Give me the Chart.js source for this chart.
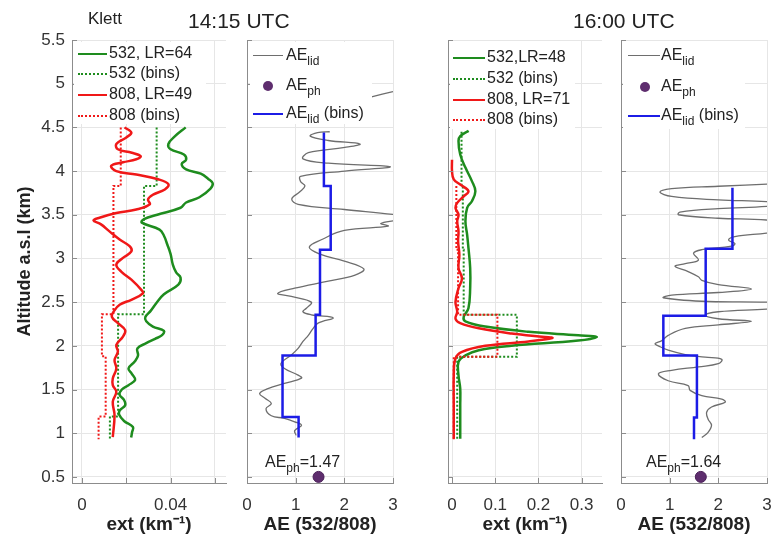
<!DOCTYPE html>
<html>
<head>
<meta charset="utf-8">
<script src="https://cdn.jsdelivr.net/npm/chart.js@4.4.1/dist/chart.umd.min.js"></script>
<style>
  body { margin: 0; background: #fff; font-family: 'Liberation Sans', Arial, sans-serif; color: #222; }
  #wrap { position: relative; width: 776px; height: 540px; overflow: hidden; }
  canvas { position: absolute; left: 0; top: 0; }
  .t { position: absolute; white-space: nowrap; }
  .box { position: absolute; background: #fff; }
  .row { position: absolute; height: 20px; line-height: 20px; font-size: 16px; white-space: nowrap; color: #222; }
  .ln { display: inline-block; vertical-align: middle; height: 0; margin-right: 2px; }
  .dot { display: inline-block; vertical-align: middle; width: 10px; height: 10px; border-radius: 50%; background: #5e2d6e; }
  .sb { font-size: 12px; position: relative; top: 5px; }
</style>
</head>
<body>
<div id="wrap">
  <canvas id="c1" width="776" height="540"></canvas>
  <canvas id="c2" width="776" height="540"></canvas>
  <canvas id="c3" width="776" height="540"></canvas>
  <canvas id="c4" width="776" height="540"></canvas>

  <div class="t" style="left:88px;top:9px;font-size:17px;">Klett</div>
  <div class="t" style="left:188px;top:9px;font-size:21px;">14:15 UTC</div>
  <div class="t" style="left:573px;top:9px;font-size:21px;">16:00 UTC</div>

  <!-- legend 14:15 ext -->
  <div class="box" style="left:74px;top:42px;width:132px;height:82px;"></div>
  <div class="row" style="left:78px;top:43px;"><span class="ln" style="width:29px;border-top:2.5px solid #1e8c1e"></span>532, LR=64</div>
  <div class="row" style="left:78px;top:63px;"><span class="ln" style="width:29px;border-top:2px dotted #1e8c1e"></span>532 (bins)</div>
  <div class="row" style="left:78px;top:84px;"><span class="ln" style="width:29px;border-top:2.5px solid #f01818"></span>808, LR=49</div>
  <div class="row" style="left:78px;top:105px;"><span class="ln" style="width:29px;border-top:2px dotted #f01818"></span>808 (bins)</div>

  <!-- legend 14:15 AE -->
  <div class="box" style="left:250px;top:42px;width:122px;height:82px;"></div>
  <div class="row" style="left:253px;top:45px;"><span class="ln" style="width:30px;border-top:1.3px solid #6e6e6e;margin-right:3px"></span>AE<span class="sb">lid</span></div>
  <div class="row" style="left:253px;top:75px;"><span class="dot" style="margin-left:10px;margin-right:13px"></span>AE<span class="sb">ph</span></div>
  <div class="row" style="left:253px;top:103px;"><span class="ln" style="width:30px;border-top:2.5px solid #1c1ce6;margin-right:3px"></span>AE<span class="sb">lid</span> (bins)</div>

  <!-- legend 16:00 ext -->
  <div class="box" style="left:450px;top:41px;width:125px;height:88px;"></div>
  <div class="row" style="left:453px;top:47px;"><span class="ln" style="width:32px;border-top:2.5px solid #1e8c1e"></span>532,LR=48</div>
  <div class="row" style="left:453px;top:68px;"><span class="ln" style="width:32px;border-top:2px dotted #1e8c1e"></span>532 (bins)</div>
  <div class="row" style="left:453px;top:89px;"><span class="ln" style="width:32px;border-top:2.5px solid #f01818"></span>808, LR=71</div>
  <div class="row" style="left:453px;top:109px;"><span class="ln" style="width:32px;border-top:2px dotted #f01818"></span>808 (bins)</div>

  <!-- legend 16:00 AE -->
  <div class="box" style="left:623px;top:41px;width:122px;height:88px;"></div>
  <div class="row" style="left:628px;top:45px;"><span class="ln" style="width:32px;border-top:1.3px solid #6e6e6e;margin-right:1px"></span>AE<span class="sb">lid</span></div>
  <div class="row" style="left:628px;top:76px;"><span class="dot" style="margin-left:12px;margin-right:11px"></span>AE<span class="sb">ph</span></div>
  <div class="row" style="left:628px;top:105px;"><span class="ln" style="width:32px;border-top:2.5px solid #1c1ce6;margin-right:1px"></span>AE<span class="sb">lid</span> (bins)</div>

  <div class="row" style="left:265px;top:452px;">AE<span class="sb">ph</span>=1.47</div>
  <div class="row" style="left:646px;top:452px;">AE<span class="sb">ph</span>=1.64</div>
</div>

<script>
// ---- 14:15 UTC ----
const alt1415G = [4.50, 4.40, 4.31, 4.25, 4.19, 4.13, 4.08, 4.02, 3.97, 3.91, 3.86, 3.80, 3.70, 3.64, 3.58, 3.50, 3.45, 3.41, 3.33, 3.26, 3.16, 3.05, 2.93, 2.84, 2.78, 2.70, 2.59, 2.49, 2.40, 2.33, 2.28, 2.22, 2.17, 2.12, 2.08, 2.03, 1.97, 1.89, 1.82, 1.74, 1.68, 1.61, 1.55, 1.50, 1.44, 1.38, 1.32, 1.26, 1.21, 1.14, 1.07, 1.01, 0.95];
const ext1415G = [0.0468, 0.042, 0.039, 0.040, 0.046, 0.047, 0.045, 0.047, 0.0536, 0.057, 0.059, 0.058, 0.053, 0.047, 0.0445, 0.034, 0.028, 0.027, 0.035, 0.037, 0.0385, 0.040, 0.041, 0.0425, 0.0445, 0.0435, 0.037, 0.0336, 0.031, 0.0286, 0.029, 0.032, 0.037, 0.036, 0.033, 0.029, 0.025, 0.0253, 0.0238, 0.021, 0.0225, 0.024, 0.021, 0.018, 0.017, 0.019, 0.0195, 0.017, 0.0168, 0.019, 0.023, 0.0226, 0.0222];

const alt1415R = [4.50, 4.44, 4.385, 4.31, 4.25, 4.21, 4.17, 4.135, 4.10, 4.06, 4.00, 3.96, 3.906, 3.85, 3.79, 3.73, 3.676, 3.62, 3.56, 3.52, 3.466, 3.435, 3.39, 3.31, 3.216, 3.14, 3.08, 3.006, 2.93, 2.85, 2.757, 2.64, 2.60, 2.527, 2.47, 2.40, 2.33, 2.26, 2.18, 2.106, 2.01, 1.933, 1.837, 1.74, 1.626, 1.55, 1.473, 1.36, 1.205, 0.956];
const ext1415R = [0.0192, 0.0223, 0.020, 0.0155, 0.0162, 0.0225, 0.0265, 0.0245, 0.0185, 0.0132, 0.0155, 0.0245, 0.0344, 0.039, 0.0374, 0.0321, 0.0298, 0.0306, 0.0245, 0.0155, 0.0079, 0.0052, 0.0086, 0.0124, 0.017, 0.0215, 0.0223, 0.0185, 0.0155, 0.0177, 0.0223, 0.0268, 0.0275, 0.0223, 0.017, 0.0145, 0.0135, 0.0162, 0.0195, 0.0185, 0.0155, 0.0162, 0.0147, 0.0155, 0.0139, 0.0139, 0.0155, 0.0139, 0.0147, 0.0139];

const edges1415G = [4.50, 3.83, 2.36, 1.19, 0.93];
const bins1415G = [0.0337, 0.028, 0.0163, 0.0126];
const edges1415R = [4.50, 3.83, 2.36, 1.88, 1.19, 0.93];
const bins1415R = [0.0175, 0.0142, 0.009, 0.0107, 0.0075];

const alt1415AE = [4.45, 4.44, 4.40, 4.35, 4.31, 4.27, 4.21, 4.14, 4.09, 4.05, 4.00, 3.94, 3.88, 3.83, 3.76, 3.68, 3.62, 3.56, 3.50, 3.47, 3.44, 3.40, 3.37, 3.32, 3.22, 3.13, 3.05, 2.97, 2.88, 2.81, 2.74, 2.66, 2.60, 2.565, 2.50, 2.43, 2.39, 2.355, 2.32, 2.26, 2.20, 2.12, 2.05, 1.97, 1.895, 1.80, 1.74, 1.665, 1.63, 1.57, 1.51, 1.455, 1.40, 1.34, 1.28, 1.20, 1.17, 1.13, 1.09, 1.03, 0.975];
const ae1415 = [1.70, 1.45, 1.30, 1.67, 2.32, 2.01, 1.26, 1.15, 1.67, 2.94, 2.01, 1.10, 1.10, 1.19, 1.08, 0.92, 1.05, 2.00, 3.05, 3.3, 3.1, 2.75, 2.9, 2.0, 1.55, 1.28, 1.5, 2.0, 2.4, 2.22, 1.67, 0.98, 0.63, 0.91, 1.32, 1.22, 1.15, 1.32, 1.77, 1.46, 1.36, 1.26, 1.15, 1.05, 0.91, 0.70, 0.77, 1.05, 1.12, 0.77, 0.43, 0.26, 0.37, 0.5, 0.39, 0.5, 0.77, 0.98, 1.12, 0.98, 1.01];
const alt1415AEtop = [4.85, 4.91, 4.95];
const ae1415top = [2.56, 3.0, 3.3];
const edges1415AE = [4.44, 3.83, 3.10, 2.355, 1.89, 1.186, 0.95];
const bins1415AE = [1.58, 1.72, 1.50, 1.41, 0.73, 1.06];
const aePh1415 = 1.47;

// ---- 16:00 UTC ----
const alt1600G = [4.46, 4.40, 4.345, 4.19, 4.04, 3.885, 3.77, 3.655, 3.58, 3.425, 3.27, 3.12, 2.89, 2.66, 2.43, 2.33, 2.28, 2.22, 2.16, 2.12, 2.10, 2.06, 2.00, 1.95, 1.89, 1.816, 1.66, 1.51, 1.32, 1.13, 0.935];
const ext1600G = [0.0385, 0.019, 0.015, 0.019, 0.031, 0.046, 0.054, 0.046, 0.035, 0.031, 0.035, 0.038, 0.042, 0.042, 0.038, 0.027, 0.031, 0.077, 0.177, 0.292, 0.335, 0.292, 0.138, 0.062, 0.031, 0.015, 0.015, 0.019, 0.019, 0.019, 0.019];

const alt1600R = [4.13, 4.00, 3.904, 3.846, 3.77, 3.71, 3.636, 3.58, 3.50, 3.425, 3.31, 3.195, 3.04, 2.89, 2.77, 2.66, 2.50, 2.39, 2.31, 2.26, 2.20, 2.14, 2.10, 2.09, 2.05, 2.00, 1.93, 1.855, 1.66, 1.32, 0.935];
const ext1600R = [0.0, 0.0, 0.004, 0.019, 0.038, 0.027, 0.012, 0.008, 0.015, 0.012, 0.015, 0.014, 0.017, 0.015, 0.023, 0.015, 0.008, 0.012, 0.008, 0.019, 0.062, 0.138, 0.215, 0.232, 0.177, 0.077, 0.023, 0.008, 0.004, 0.004, 0.004];

const edges1600G = [4.45, 3.83, 3.10, 2.355, 1.875, 0.93];
const bins1600G = [0.022, 0.025, 0.027, 0.15, 0.012];
const edges1600R = [3.83, 3.10, 2.355, 1.875, 0.93];
const bins1600R = [0.010, 0.014, 0.105, 0.004];

const alt1600AE = [3.852, 3.826, 3.80, 3.76, 3.71, 3.67, 3.65, 3.63, 3.60, 3.57, 3.53, 3.50, 3.46, 3.44, 3.40, 3.32, 3.29, 3.25, 3.21, 3.17, 3.14, 3.10, 3.06, 2.98, 2.94, 2.91, 2.85, 2.79, 2.75, 2.70, 2.65, 2.61, 2.58, 2.55, 2.51, 2.50, 2.48, 2.44, 2.42, 2.39, 2.35, 2.31, 2.28, 2.24, 2.20, 2.12, 2.06, 2.025, 1.99, 1.95, 1.90, 1.87, 1.845, 1.795, 1.76, 1.72, 1.68, 1.60, 1.545, 1.49, 1.43, 1.39, 1.355, 1.30, 1.24, 1.16, 1.09, 1.01, 0.95];
const ae1600 = [3.1, 2.0, 1.04, 0.80, 1.04, 2.0, 2.99, 3.2, 3.1, 2.0, 1.21, 1.18, 2.0, 2.99, 3.3, 3.3, 2.99, 2.34, 2.21, 2.34, 2.27, 1.66, 1.49, 1.59, 1.32, 1.11, 1.38, 1.59, 1.66, 2.0, 2.68, 2.0, 1.04, 0.87, 1.66, 2.99, 3.3, 3.3, 2.99, 2.0, 1.73, 2.0, 2.68, 2.0, 1.32, 0.97, 0.84, 0.70, 0.80, 0.97, 1.32, 1.73, 2.07, 2.0, 1.59, 1.04, 0.77, 0.97, 1.38, 1.42, 1.66, 2.07, 2.14, 1.86, 1.76, 1.79, 1.86, 1.79, 1.66];
const edges1600AE = [3.81, 3.11, 2.343, 1.89, 1.18, 0.93];
const bins1600AE = [2.29, 1.74, 0.87, 1.56, 1.50];
const aePh1600 = 1.64;

const altPh = 0.5;
const yTicks = { min: 0.43, max: 5.5, step: 0.5 };

const GREEN = '#1e8c1e', RED = '#f01818', BLUE = '#1c1ce6', GREY = '#6e6e6e', PURPLE = '#5e2d6e';

Chart.defaults.font.family = "'Liberation Sans', Arial, sans-serif";

function pts(xs, ys) {
  return xs.map((x, i) => ({ x: x, y: ys[i] }));
}

// step profile from bin edges and bin values
function steps(edges, vals) {
  const out = [];
  vals.forEach((v, i) => {
    out.push({ x: v, y: edges[i] });
    out.push({ x: v, y: edges[i + 1] });
  });
  return out;
}

function curve(data, color, width, order) {
  return { data, showLine: true, borderColor: color, borderWidth: width, pointRadius: 0, tension: 0.4, order };
}
function binLine(data, color, width, dash, order) {
  return { data, showLine: true, borderColor: color, borderWidth: width, borderDash: dash, pointRadius: 0, tension: 0, order };
}
function dot(x, order) {
  return { data: [{ x: x, y: altPh }], showLine: false, pointRadius: 5.5, backgroundColor: PURPLE, borderColor: '#4a2058', borderWidth: 1, order };
}

// inward tick marks, like the original figure
const inTicks = {
  id: 'inTicks',
  afterDraw(chart) {
    const { ctx, chartArea: a, scales: { x, y } } = chart;
    ctx.save();
    ctx.strokeStyle = '#8c8c8c';
    ctx.lineWidth = 1;
    ctx.beginPath();
    y.ticks.forEach(t => {
      const p = Math.round(y.getPixelForValue(t.value)) + 0.5;
      ctx.moveTo(a.left, p); ctx.lineTo(a.left + 5, p);
    });
    x.ticks.forEach(t => {
      const p = Math.round(x.getPixelForValue(t.value)) + 0.5;
      ctx.moveTo(p, a.bottom); ctx.lineTo(p, a.bottom - 5);
    });
    ctx.stroke();
    ctx.restore();
  }
};

function panel(id, p) {
  const first = p.first;
  new Chart(document.getElementById(id), {
    type: 'scatter',
    data: { datasets: p.datasets },
    options: {
      responsive: false,
      animation: false,
      events: [],
      layout: { padding: { left: p.left - p.yw, right: 776 - p.right, top: 40, bottom: 0 } },
      plugins: { legend: { display: false }, tooltip: { enabled: false } },
      scales: {
        x: {
          type: 'linear', min: p.xmin, max: p.xmax,
          grid: { color: '#e6e6e6', drawTicks: false },
          border: { color: '#8c8c8c' },
          ticks: { stepSize: p.xstep, includeBounds: false, autoSkip: false, maxRotation: 0, padding: 12,
                   color: '#333', font: { size: 17 }, callback: p.fmt },
          title: { display: true, text: p.xtitle, color: '#222', font: { size: 19, weight: 'bold' }, padding: { top: 0, bottom: 4 } },
          afterFit: s => { s.height = 57; s.paddingLeft = 0; s.paddingRight = 0; }
        },
        y: {
          type: 'linear', min: yTicks.min, max: yTicks.max,
          grid: { color: '#e6e6e6', drawTicks: false },
          border: { color: '#8c8c8c' },
          ticks: { display: first, stepSize: yTicks.step, includeBounds: false, autoSkip: false, padding: 7,
                   color: '#333', font: { size: 17 }, callback: v => String(+v.toFixed(1)) },
          title: { display: first, text: 'Altitude a.s.l (km)', color: '#222', font: { size: 18, weight: 'bold' }, padding: { top: 14, bottom: 0 } },
          afterFit: s => { s.width = p.yw; s.paddingTop = 0; s.paddingBottom = 0; }
        }
      }
    },
    plugins: [inTicks]
  });
}

panel('c1', {
  first: true, left: 72, right: 226, yw: 72,
  xmin: -0.0045, xmax: 0.065, xstep: 0.02, xtitle: 'ext (km⁻¹)',
  fmt: v => (Math.abs(v) < 1e-9 ? '0' : Math.abs(v - 0.04) < 1e-9 ? '0.04' : ''),
  datasets: [
    curve(pts(ext1415G, alt1415G), GREEN, 2.5, 4),
    binLine(steps(edges1415G, bins1415G), GREEN, 2, [2, 2], 3),
    curve(pts(ext1415R, alt1415R), RED, 2.5, 2),
    binLine(steps(edges1415R, bins1415R), RED, 2, [2, 2], 1)
  ]
});

panel('c2', {
  first: false, left: 247, right: 393, yw: 10,
  xmin: 0, xmax: 3, xstep: 1, xtitle: 'AE (532/808)',
  fmt: v => String(Math.round(v)),
  datasets: [
    curve(pts(ae1415, alt1415AE), GREY, 1.3, 4),
    curve(pts(ae1415top, alt1415AEtop), GREY, 1.3, 3),
    dot(aePh1415, 2),
    binLine(steps(edges1415AE, bins1415AE), BLUE, 2.5, [], 1)
  ]
});

panel('c3', {
  first: false, left: 448, right: 602, yw: 10,
  xmin: -0.0093, xmax: 0.347, xstep: 0.1, xtitle: 'ext (km⁻¹)',
  fmt: v => (Math.abs(v) < 1e-9 ? '0' : String(+v.toFixed(1))),
  datasets: [
    curve(pts(ext1600G, alt1600G), GREEN, 2.5, 4),
    binLine(steps(edges1600G, bins1600G), GREEN, 2, [2, 2], 3),
    curve(pts(ext1600R, alt1600R), RED, 2.5, 2),
    binLine(steps(edges1600R, bins1600R), RED, 2, [2, 2], 1)
  ]
});

panel('c4', {
  first: false, left: 621, right: 767, yw: 10,
  xmin: 0, xmax: 3, xstep: 1, xtitle: 'AE (532/808)',
  fmt: v => String(Math.round(v)),
  datasets: [
    curve(pts(ae1600, alt1600AE), GREY, 1.3, 3),
    dot(aePh1600, 2),
    binLine(steps(edges1600AE, bins1600AE), BLUE, 2.5, [], 1)
  ]
});
</script>
</body>
</html>
